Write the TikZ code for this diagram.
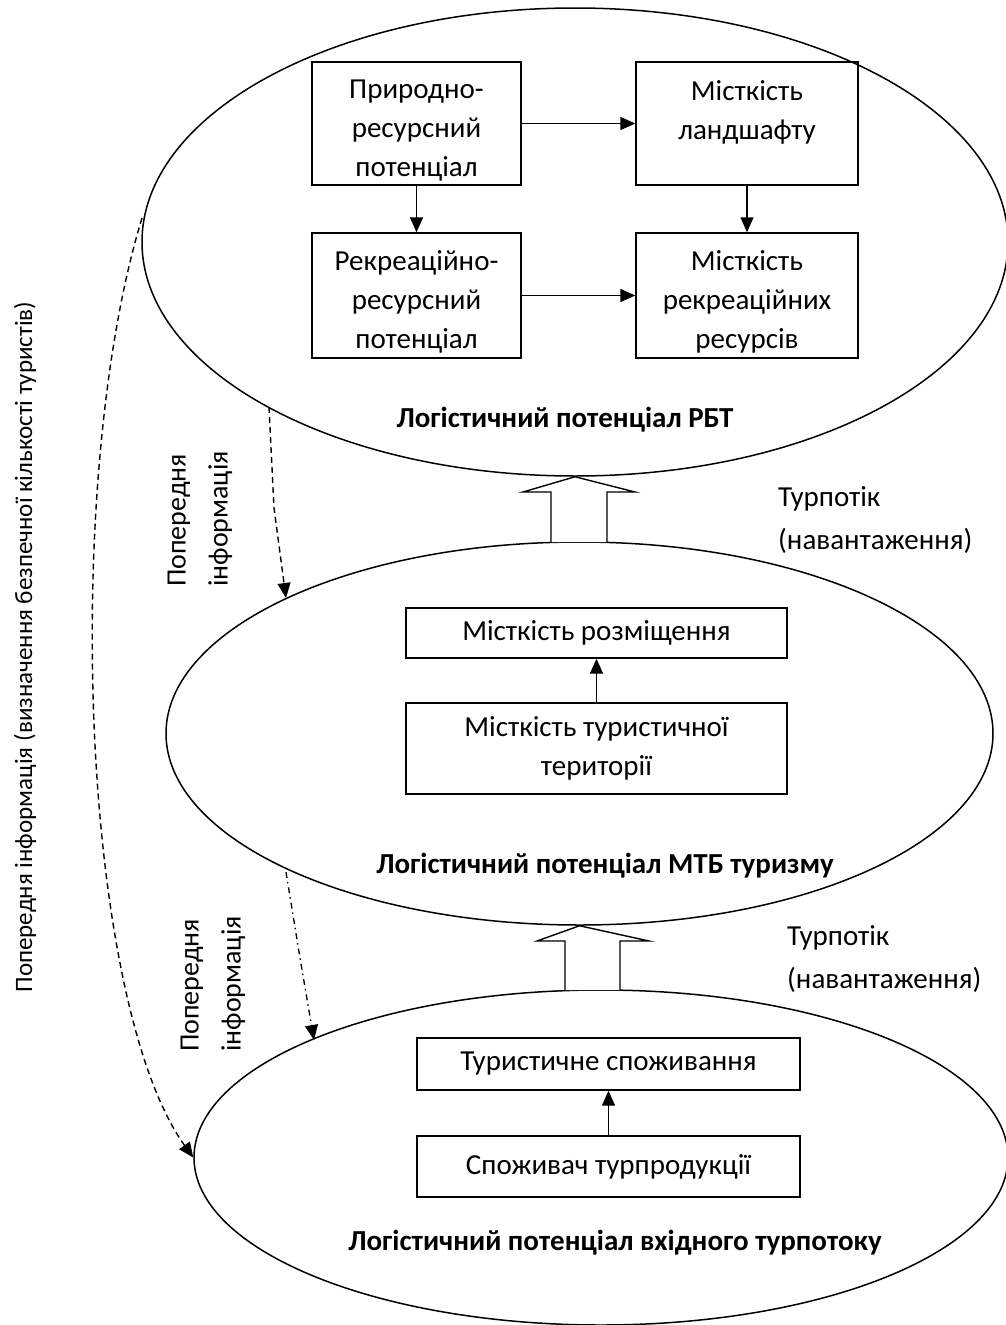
\documentclass[tikz,border=0pt]{standalone}
\usepackage{fontspec}
\setmainfont{Carlito}
\usetikzlibrary{shapes.geometric,arrows.meta,calc}
\newcommand{\fstrut}{\rule{0pt}{32pt}}
\begin{document}
\begin{tikzpicture}[x=1pt,y=-1pt,
  every node/.style={font=\fontsize{29}{39}\selectfont},
  ell/.style={draw, ellipse, line width=1.5pt, inner sep=0pt},
  box/.style={draw, line width=1.4pt, align=center, inner sep=0pt},
  arr/.style={line width=1.4pt, -{Triangle[length=15pt,width=13pt]}},
  darr/.style={line width=1.4pt, dash pattern=on 6pt off 4pt, -{Triangle[length=15pt,width=13pt]}},
  ddarr/.style={line width=1.3pt, dash pattern=on 6pt off 4pt on 1.5pt off 4pt, -{Triangle[length=15pt,width=13pt]}},
  bigarrow/.style={draw, line width=1.4pt, fill=white, line join=miter},
  lbl/.style={font=\fontsize{29}{39}\selectfont\bfseries},
  side/.style={anchor=north west, align=left, inner sep=0pt, font=\fontsize{29}{43}\selectfont},
  rot/.style={rotate=90, align=left, inner sep=0pt, font=\fontsize{28}{42}\selectfont}
]
\useasboundingbox (0,0) rectangle (1006,1325);

% ellipses
\node[ell, minimum width=866pt, minimum height=468pt] (E1) at (575,242) {};
\node[ell, minimum width=827pt, minimum height=383pt] (E2) at (579.5,733.5) {};
\node[ell, minimum width=814pt, minimum height=335pt] (E3) at (601,1157.5) {};

% top boxes
\node[box, minimum width=209pt, minimum height=123pt] (b1) at (416.5,123.5) {\fstrut Природно-\\ресурсний\\потенціал};
\node[box, minimum width=222pt, minimum height=123pt] (b2) at (747,123.5) {\fstrut Місткість\\ландшафту\\\mbox{}};
\node[box, minimum width=209pt, minimum height=125pt] (b3) at (416.5,295.5) {\fstrut Рекреаційно-\\ресурсний\\потенціал};
\node[box, minimum width=222pt, minimum height=125pt] (b4) at (747,295.5) {\fstrut Місткість\\рекреаційних\\ресурсів};
\draw[arr] (b1) -- (b2);
\draw[arr] (b3) -- (b4);
\draw[arr] (b1) -- (b3);
\draw[arr] (b2) -- (b4);
\node[lbl] (L1) at (565,420) {Логістичний потенціал РБТ};

% middle boxes
\node[box, minimum width=381pt, minimum height=50pt] (m1) at (596.5,633) {Місткість розміщення};
\node[box, minimum width=381pt, minimum height=91pt] (m2) at (596.5,748.5) {Місткість туристичної\\території};
\draw[arr] (m2) -- (m1);
\node[lbl] (L2) at (605,866) {Логістичний потенціал МТБ туризму};

% bottom boxes
\node[box, minimum width=383pt, minimum height=52pt] (c1) at (608.5,1064) {Туристичне споживання};
\node[box, minimum width=383pt, minimum height=61pt] (c2) at (608.5,1166.5) {Споживач турпродукції};
\draw[arr] (c2) -- (c1);
\node[lbl] (L3) at (615,1243) {Логістичний потенціал вхідного турпотоку};

% hollow block arrows
\draw[bigarrow] (551,542) -- (551,492) -- (523,492) -- (E1.south) -- (635,492) -- (607,492) -- (607,542);
\draw[bigarrow] (565,990) -- (565,941) -- (537,941) -- (E2.south) -- (649,941) -- (620,941) -- (620,990);

\node[side] (T1) at (778,486) {Турпотік\\(навантаження)};
\node[side] (T2) at (787,925) {Турпотік\\(навантаження)};

% dashed connectors
\coordinate (d1s) at (142,218);
\draw[darr] (d1s) .. controls (62,480) and (80,1000) .. (E3.west);

\coordinate (d2s) at (269,407);
\coordinate (d2k) at (274,508);
\coordinate (d2e) at (286,598);
\draw[darr] (d2s) -- (d2k) -- (d2e);

\coordinate (d3s) at (286,872);
\coordinate (d3k) at (300,958);
\coordinate (d3e) at (314,1040);
\draw[ddarr] (d3s) -- (d3k) -- (d3e);

% rotated labels
\node[rot, anchor=west] (R1) at (200,587) {Попередня\\інформація};
\node[rot, anchor=west] (R2) at (213,1052) {Попередня\\інформація};
\node[rotate=90, inner sep=0pt, font=\fontsize{25}{30}\selectfont] (R3) at (25,647) {Попередня інформація (визначення безпечної кількості туристів)};
\end{tikzpicture}
\end{document}
